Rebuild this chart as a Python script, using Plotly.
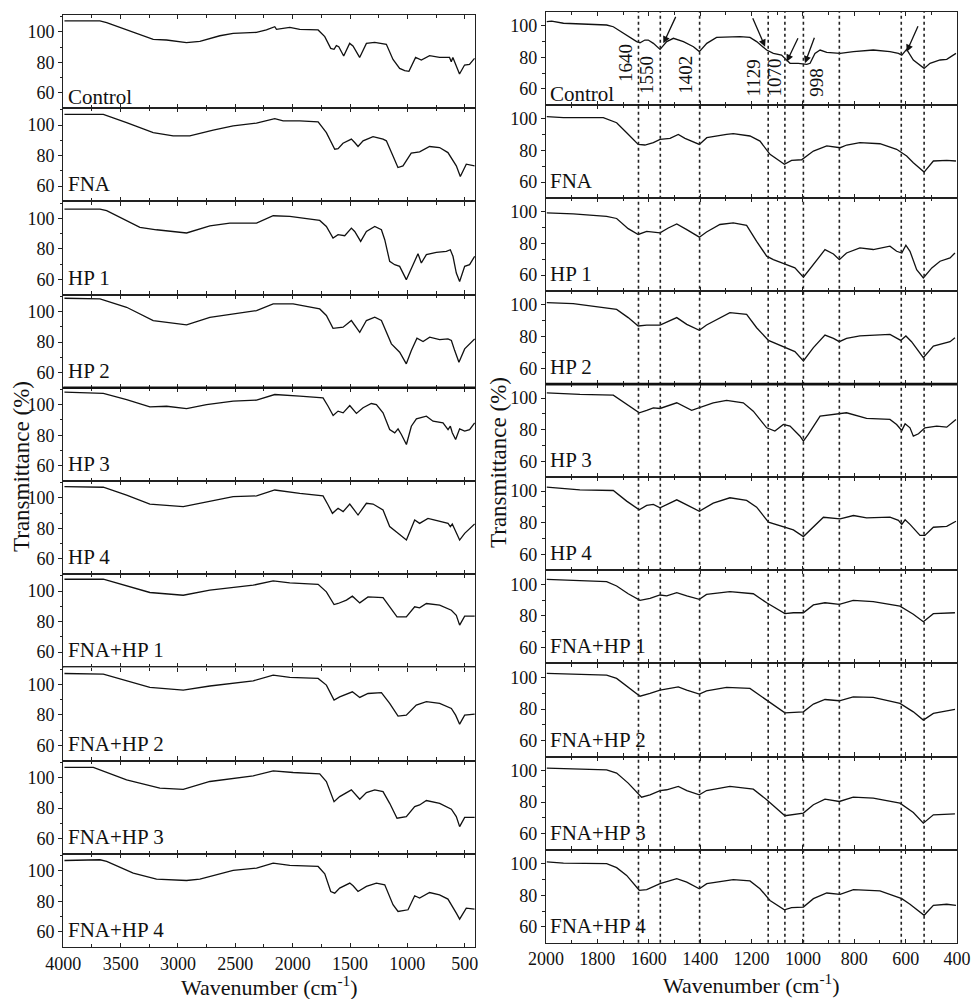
import plotly.graph_objects as go

W, H = 973, 999
BODY = 0   # body margin is reset to 0 by the post script below

samples = ["Control", "FNA", "HP 1", "HP 2", "HP 3", "HP 4",
           "FNA+HP 1", "FNA+HP 2", "FNA+HP 3", "FNA+HP 4"]

# ---------------- full range spectra (left column) ----------------
full_control_wn = [3990, 3681, 3622, 3448, 3216, 3100, 2926, 2809, 2635, 2519, 2316, 2229, 2156, 2141, 2025, 1938, 1778, 1720, 1668, 1639, 1619, 1598, 1555, 1503, 1474, 1416, 1357, 1285, 1212, 1183, 1125, 1067, 1023, 986, 928, 878, 806, 719, 632, 617, 603, 545, 501, 458, 414]
full_control_t = [107.2, 107.2, 106.1, 101.3, 95.1, 94.7, 93, 93.8, 97.5, 99.1, 99.7, 101.3, 103.4, 101.7, 103, 101.7, 101.3, 96.9, 89.2, 88.6, 91, 90.3, 84.2, 92.5, 90.8, 83.3, 92.5, 93.2, 92.5, 91.9, 82, 76.1, 74.6, 74.2, 83.3, 81.6, 84.4, 83.3, 83.3, 80.5, 83.3, 72.4, 78.3, 78.7, 82.7]

full_fna_wn = [3990, 3651, 3448, 3216, 3042, 2897, 2693, 2519, 2316, 2156, 2083, 1938, 1778, 1706, 1633, 1604, 1561, 1488, 1459, 1430, 1386, 1299, 1212, 1183, 1125, 1082, 1038, 966, 893, 806, 719, 646, 573, 538, 486, 414]
full_fna_t = [107, 107, 101.7, 95.1, 93, 93, 96.7, 99.5, 101.3, 104.3, 102.8, 102.8, 102.1, 95.1, 84.2, 84.6, 88.1, 90.8, 88.6, 86, 89.7, 92.5, 90.8, 89.7, 79.8, 72.2, 73.3, 81.6, 82.5, 86, 85.3, 82, 73.3, 66.3, 74.4, 73.3]

full_hp1_wn = [3990, 3680, 3622, 3332, 3187, 2925, 2722, 2548, 2315, 2170, 2025, 1764, 1706, 1648, 1604, 1546, 1488, 1459, 1407, 1357, 1284, 1226, 1197, 1154, 1110, 1067, 1009, 965, 907, 878, 834, 747, 660, 625, 602, 573, 544, 500, 457, 413]
full_hp1_t = [106.1, 106.1, 105, 94.1, 92.5, 90.4, 95.1, 96.9, 96.9, 101.7, 101.3, 98.6, 94.7, 87.1, 89.3, 88.6, 93.6, 91.4, 84.9, 91.4, 94.7, 92.5, 86, 71.8, 69.6, 68.5, 59.8, 67.4, 76.8, 70.7, 76.2, 77.7, 78.4, 79.4, 75.1, 64.1, 58.6, 68.5, 69.6, 75.1]

full_hp2_wn = [3990, 3680, 3448, 3216, 2925, 2722, 2315, 2170, 1996, 1764, 1706, 1648, 1560, 1488, 1415, 1357, 1284, 1226, 1139, 1067, 1009, 965, 916, 863, 805, 718, 646, 616, 587, 550, 500, 428, 413]
full_hp2_t = [108.7, 108.3, 102.8, 94.1, 91.2, 96.2, 100.6, 105, 105, 101.7, 97.4, 89, 89.7, 94.1, 86.4, 94.1, 96.3, 94.1, 78.8, 73.3, 65.7, 74.4, 82.5, 80.3, 83.2, 81.6, 82.1, 81, 74.4, 66.7, 75.5, 81, 82]

full_hp3_wn = [3990, 3651, 3448, 3245, 3099, 2925, 2751, 2519, 2315, 2156, 1938, 1735, 1691, 1647, 1604, 1560, 1502, 1444, 1386, 1314, 1270, 1212, 1154, 1110, 1081, 1052, 1008, 965, 921, 834, 776, 689, 645, 625, 608, 579, 544, 500, 457, 413]
full_hp3_t = [108.2, 107.4, 103.4, 98.6, 99, 97.5, 100.1, 102.3, 103, 106.7, 105.6, 104.5, 99, 92.9, 95.8, 94.7, 99.5, 94.3, 98, 100.8, 100.1, 94.7, 83.7, 81.6, 84.2, 80.5, 73.9, 85.9, 90.7, 92.5, 89.2, 88.1, 83.7, 85.9, 81.6, 77.2, 84.2, 82.7, 83.7, 88.1]

full_hp4_wn = [3990, 3651, 3448, 3245, 2954, 2751, 2519, 2315, 2156, 1938, 1735, 1691, 1653, 1604, 1560, 1502, 1430, 1357, 1299, 1212, 1154, 1081, 1008, 936, 893, 820, 718, 645, 625, 608, 544, 500, 413]
full_hp4_t = [107.4, 107, 101.9, 96, 94.3, 97.5, 100.8, 101.3, 105.2, 103, 101.3, 95.4, 89.9, 93.2, 91, 96, 88.8, 96.5, 96, 92.1, 81.2, 76.8, 72.4, 85.5, 83.3, 86.6, 84.4, 83.3, 81.2, 82.9, 72.4, 76.8, 82.9]

full_fh1_wn = [3990, 3651, 3245, 2954, 2722, 2344, 2170, 2025, 1778, 1706, 1639, 1604, 1531, 1479, 1415, 1343, 1212, 1154, 1090, 1009, 936, 893, 834, 718, 616, 573, 544, 500, 413]
full_fh1_t = [107.8, 107.8, 99.1, 97.3, 100.6, 103.9, 106.7, 105.4, 104.5, 99.5, 91.2, 91.9, 94.1, 96.7, 92.3, 96.2, 95.8, 89.7, 83.1, 83.1, 89.7, 89, 91.9, 90.8, 87.5, 84.2, 77.7, 83.6, 83.6]

full_fh2_wn = [3990, 3651, 3245, 2954, 2722, 2344, 2170, 2025, 1778, 1706, 1639, 1590, 1479, 1415, 1343, 1226, 1154, 1081, 1009, 922, 834, 718, 616, 579, 544, 500, 413]
full_fh2_t = [107.1, 106.7, 98, 96.2, 98.9, 102.3, 106, 104.5, 103.9, 99.5, 89.7, 91.8, 95.1, 91.4, 94, 94.5, 87.5, 79.2, 79.8, 86.4, 88.6, 87.5, 84.2, 79.8, 73.9, 79.8, 80.5]

full_fh3_wn = [3990, 3738, 3448, 3158, 2954, 2722, 2344, 2170, 1996, 1764, 1706, 1639, 1590, 1488, 1415, 1357, 1284, 1212, 1154, 1090, 1009, 936, 893, 834, 718, 616, 573, 544, 500, 413]
full_fh3_t = [106.7, 106.7, 98.4, 93, 92.3, 97.4, 101.1, 104.3, 103.3, 102.4, 97.4, 84.2, 87.5, 91.9, 85.8, 90.1, 91.9, 90.8, 83.1, 73.3, 74.4, 80.9, 82, 84.9, 83.1, 79.2, 74.4, 67.8, 73.9, 73.9]

full_fh4_wn = [3990, 3680, 3622, 3390, 3187, 2925, 2809, 2664, 2519, 2315, 2170, 2025, 1778, 1720, 1668, 1633, 1590, 1502, 1473, 1430, 1357, 1270, 1197, 1125, 1081, 994, 936, 893, 806, 719, 646, 573, 544, 486, 414]
full_fh4_t = [106.7, 107.2, 106.1, 98.4, 94.5, 93.6, 94.5, 97.3, 100.2, 101.7, 105, 103.5, 102.8, 98, 86.4, 85.3, 88.6, 91.9, 90.1, 86.4, 89.7, 91.9, 90.8, 77.7, 73.3, 74.4, 83.6, 82.1, 85.7, 84.2, 81.4, 72.2, 68.3, 75.5, 74.8]

# ---------------- fingerprint region spectra (right column) ----------------
fp_control_wn = [1997, 1978, 1932, 1868, 1764, 1738, 1686, 1647, 1634, 1615, 1602, 1582, 1556, 1530, 1504, 1465, 1426, 1403, 1374, 1336, 1245, 1206, 1180, 1141, 1115, 1083, 1070, 1050, 1018, 985, 972, 953, 933, 907, 855, 803, 726, 661, 628, 615, 596, 570, 528, 505, 466, 440, 404]
fp_control_t = [102.5, 102.9, 101.5, 101, 100.4, 99.3, 94.1, 89.9, 89.2, 90.9, 90.9, 88.8, 85, 89.9, 92, 89.9, 86.7, 83.6, 88.8, 92.6, 93, 92.6, 89.9, 84.6, 82.5, 81.4, 79.3, 76.2, 76.2, 75.5, 76.2, 82.5, 84.6, 83.1, 82.5, 83.6, 84.6, 83.6, 82.5, 81.4, 85, 78.3, 73, 76.2, 78.3, 78.7, 82.5]

fp_fna_wn = [1997, 1932, 1777, 1725, 1686, 1641, 1615, 1582, 1556, 1517, 1485, 1459, 1403, 1374, 1297, 1271, 1206, 1167, 1128, 1096, 1072, 1044, 1005, 959, 907, 855, 829, 778, 700, 635, 596, 570, 528, 492, 440, 404]
fp_fna_t = [101.3, 100.7, 100.7, 97.5, 91.2, 83.8, 83.4, 84.9, 87, 87.6, 90.1, 87.6, 83.8, 88, 90.1, 90.6, 89.1, 85.9, 77.5, 73.7, 71.2, 73.7, 74.1, 79.6, 82.8, 81.7, 83.4, 84.9, 84.2, 80.7, 76.5, 72.2, 66.3, 73.3, 73.7, 73.3]

fp_hp1_wn = [1997, 1894, 1764, 1725, 1680, 1641, 1608, 1556, 1524, 1491, 1452, 1403, 1375, 1323, 1271, 1219, 1180, 1141, 1115, 1070, 1031, 998, 959, 914, 881, 858, 830, 778, 726, 661, 635, 615, 599, 583, 557, 531, 498, 466, 427, 408]
fp_hp1_t = [99.4, 98.7, 97.2, 95.8, 89.4, 85.7, 87.7, 86.7, 89.8, 92.4, 88.8, 84, 87.3, 92, 93, 91.5, 81.4, 72, 69.8, 67.1, 64.6, 58.7, 66.7, 76.1, 73.4, 69.8, 74, 77.2, 76.2, 78.3, 75.1, 74, 78.9, 75.1, 63.5, 58.3, 64.6, 68.8, 70.9, 74]

fp_hp2_wn = [1997, 1894, 1725, 1680, 1641, 1608, 1556, 1491, 1452, 1403, 1375, 1284, 1219, 1180, 1134, 1070, 1031, 998, 959, 914, 881, 858, 830, 778, 661, 619, 599, 577, 531, 492, 427, 408]
fp_hp2_t = [101.4, 100.8, 97.2, 92, 86.7, 87.3, 87.3, 92, 87.7, 84, 87.3, 95.1, 94.1, 85.6, 77.6, 73.4, 70.5, 64.6, 73, 81, 78.9, 76.8, 78.9, 80.4, 81.4, 77.6, 80.4, 76.8, 66.7, 74, 76.8, 79.3]

fp_hp3_wn = [1997, 1868, 1738, 1686, 1637, 1608, 1582, 1556, 1491, 1433, 1403, 1349, 1297, 1232, 1193, 1141, 1109, 1076, 1050, 1011, 998, 979, 933, 855, 830, 752, 661, 635, 615, 602, 583, 570, 550, 525, 479, 440, 404]
fp_hp3_t = [103.3, 102.3, 101.8, 96, 90.7, 92.2, 93.8, 93.4, 97, 92.2, 93.8, 97, 98.5, 97, 91.7, 81.2, 79.1, 83.3, 82.3, 75.9, 72.8, 77, 88.6, 90.1, 90.7, 87.1, 86.5, 83.3, 79.5, 83.7, 81.2, 75.9, 77.4, 81.2, 82.3, 81.6, 86.5]

fp_hp4_wn = [1997, 1868, 1738, 1686, 1637, 1608, 1582, 1556, 1491, 1403, 1349, 1284, 1219, 1180, 1134, 1070, 1037, 998, 959, 920, 855, 803, 752, 661, 628, 615, 602, 583, 544, 525, 492, 440, 404]
fp_hp4_t = [102.5, 100.8, 100.4, 93.7, 88.2, 91, 91.6, 89.5, 94.5, 87.3, 92.4, 95.8, 94.1, 89.9, 80.4, 77.2, 75.5, 71.3, 77.2, 83.5, 82.5, 84.6, 83.1, 83.6, 81.5, 79, 81.9, 79, 72, 72, 77.2, 77.7, 81]

fp_fh1_wn = [1997, 1764, 1725, 1680, 1634, 1595, 1556, 1530, 1491, 1452, 1403, 1375, 1284, 1193, 1141, 1070, 1037, 998, 959, 914, 858, 804, 726, 622, 570, 531, 492, 408]
fp_fh1_t = [103.1, 101.6, 98.9, 94, 89.8, 91.1, 93.2, 92.6, 94.7, 92.6, 90.5, 93.6, 95.3, 94, 88.3, 81.4, 82, 82, 86.9, 88.3, 87.3, 89.8, 89, 86.2, 81, 76.3, 81.4, 82]

fp_fh2_wn = [1997, 1764, 1725, 1680, 1634, 1595, 1556, 1485, 1452, 1403, 1375, 1297, 1206, 1141, 1070, 998, 959, 914, 858, 804, 726, 622, 570, 531, 492, 408]
fp_fh2_t = [102.5, 101.4, 99.3, 94, 88.1, 89.8, 91.9, 94, 91.9, 89.4, 91.5, 93.6, 93, 85.6, 77.6, 78.2, 83.1, 86, 85.2, 87.7, 87.3, 83.5, 78.2, 73, 77.2, 79.7]

fp_fh3_wn = [1997, 1764, 1725, 1680, 1628, 1595, 1556, 1530, 1485, 1452, 1403, 1375, 1284, 1193, 1141, 1070, 998, 959, 914, 858, 804, 726, 622, 570, 531, 492, 408]
fp_fh3_t = [101.5, 100.4, 98.3, 92, 83.1, 84.6, 87.3, 87.8, 89.9, 87.3, 84.6, 87.3, 89.9, 88.2, 81.5, 71.4, 73.1, 78.3, 81.9, 80.4, 83.1, 82.5, 79.3, 73.4, 66.7, 72, 72.6]

fp_fh4_wn = [1997, 1932, 1764, 1725, 1686, 1637, 1608, 1556, 1491, 1452, 1403, 1374, 1271, 1206, 1167, 1128, 1072, 1044, 998, 959, 907, 855, 803, 700, 615, 583, 528, 492, 440, 404]
fp_fh4_t = [101, 100.3, 99.9, 97.4, 92.5, 83.1, 83.5, 87.3, 90.4, 88.3, 84.1, 87.3, 89.8, 89, 84.1, 76.7, 70.8, 72.1, 72.5, 77.8, 81.4, 80.5, 83.5, 82.7, 77.8, 74.3, 67.3, 73.6, 74.3, 73.6]

# marked bands (right column)
band_lines = [1640, 1555, 1402, 1135, 1070, 998, 858, 617, 528]
band_labels = ["1640", "1550", "1402", "1129", "1070", "998"]

left_ticks = [4000, 3500, 3000, 2500, 2000, 1500, 1000, 500]
right_ticks = [2000, 1800, 1600, 1400, 1200, 1000, 800, 600, 400]
y_ticks = [60, 80, 100]

full_series = [(full_control_wn, full_control_t), (full_fna_wn, full_fna_t),
               (full_hp1_wn, full_hp1_t), (full_hp2_wn, full_hp2_t),
               (full_hp3_wn, full_hp3_t), (full_hp4_wn, full_hp4_t),
               (full_fh1_wn, full_fh1_t), (full_fh2_wn, full_fh2_t),
               (full_fh3_wn, full_fh3_t), (full_fh4_wn, full_fh4_t)]
fp_series = [(fp_control_wn, fp_control_t), (fp_fna_wn, fp_fna_t),
             (fp_hp1_wn, fp_hp1_t), (fp_hp2_wn, fp_hp2_t),
             (fp_hp3_wn, fp_hp3_t), (fp_hp4_wn, fp_hp4_t),
             (fp_fh1_wn, fp_fh1_t), (fp_fh2_wn, fp_fh2_t),
             (fp_fh3_wn, fp_fh3_t), (fp_fh4_wn, fp_fh4_t)]

# ---------------- layout geometry (page pixels) ----------------
FONT = "Liberation Serif, Times New Roman, serif"
L_X0, L_X1 = 63.3, 475
R_X0, R_X1 = 546, 957
L_TOP, L_STEP = 15, 93.2
R_TOP, R_STEP = 11.7, 93.1


def px(x):
    return (x - BODY) / W


def py(y):
    return 1 - (y - BODY) / H


fig = go.Figure()
layout = {}
annotations = []
shapes = []

for col in range(2):
    for i in range(10):
        n = col * 10 + i + 1
        xa = "xaxis" if n == 1 else f"xaxis{n}"
        ya = "yaxis" if n == 1 else f"yaxis{n}"
        xr = "x" if n == 1 else f"x{n}"
        yr = "y" if n == 1 else f"y{n}"
        if col == 0:
            top = L_TOP + i * L_STEP
            bot = top + L_STEP
            dom_x = [px(L_X0), px(L_X1)]
            xrange_ = [4000, 410]
            yrange_ = [50, 111.1]
            ticks_major = left_ticks
            ticks_minor = [v for v in range(3750, 400, -500)]
            wn, t = full_series[i]
            lab_x = 66
            minor_y = [70, 90, 110]
        else:
            top = R_TOP + i * R_STEP
            bot = top + R_STEP
            dom_x = [px(R_X0), px(R_X1)]
            xrange_ = [2000, 400]
            yrange_ = [50, 108.8]
            ticks_major = right_ticks
            ticks_minor = [v for v in range(1900, 400, -200)]
            wn, t = fp_series[i]
            lab_x = 548
            minor_y = [70, 90]
        fig.add_trace(go.Scatter(x=wn, y=t, mode="lines",
                                 line=dict(color="#111", width=1.3),
                                 xaxis=xr, yaxis=yr, showlegend=False,
                                 hoverinfo="skip"))
        layout[xa] = dict(domain=dom_x, anchor=yr, range=xrange_,
                          automargin=False,
                          showline=True, linecolor="#222", linewidth=1.3,
                          mirror="ticks", ticks="inside", ticklen=4,
                          tickcolor="#222", tickvals=ticks_major,
                          showticklabels=(i == 9), showgrid=False,
                          zeroline=False,
                          tickfont=dict(family=FONT, size=18, color="#111"),
                          minor=dict(tickvals=ticks_minor, ticks="inside",
                                     ticklen=3, tickcolor="#222"))
        layout[ya] = dict(domain=[py(bot), py(top)], anchor=xr,
                          automargin=False,
                          range=yrange_, showline=True, linecolor="#222",
                          linewidth=1.3, mirror=True, ticks="outside",
                          ticklen=4, tickcolor="#222", tickvals=y_ticks,
                          showgrid=False, zeroline=False,
                          tickfont=dict(family=FONT, size=18, color="#111"),
                          minor=dict(tickvals=minor_y, ticks="outside",
                                     ticklen=2.5, tickcolor="#222"))
        off = 11 if i == 0 else 17
        annotations.append(dict(x=px(lab_x), y=py(bot - off), xref="paper",
                                yref="paper", text=samples[i], showarrow=False,
                                xanchor="left", yanchor="middle",
                                font=dict(family=FONT, size=21, color="#111")))

# vertical dotted band markers on right column
for b in band_lines:
    shapes.append(dict(type="line", xref="x11", yref="paper", x0=b, x1=b,
                       y0=py(R_TOP + 10 * R_STEP), y1=py(R_TOP),
                       line=dict(color="#222", width=1.6, dash="dot")))

# thicker separators (HP 2 / HP 3 boundary)
shapes.append(dict(type="line", xref="paper", yref="paper",
                   x0=px(L_X0), x1=px(L_X1), y0=py(L_TOP + 4 * L_STEP),
                   y1=py(L_TOP + 4 * L_STEP), line=dict(color="#111", width=2.6)))
shapes.append(dict(type="line", xref="paper", yref="paper",
                   x0=px(R_X0), x1=px(R_X1), y0=py(R_TOP + 4 * R_STEP),
                   y1=py(R_TOP + 4 * R_STEP), line=dict(color="#111", width=2.6)))

# rotated band labels in Control (right) panel
label_pos = [(625.5, 63.5), (647, 75), (685.8, 75), (752.5, 78), (774, 77.5), (815.8, 82)]
for txt, (lx, ly) in zip(band_labels, label_pos):
    annotations.append(dict(x=px(lx), y=py(ly), xref="paper", yref="paper",
                            text=txt, textangle=-90, showarrow=False,
                            xanchor="center", yanchor="middle",
                            font=dict(family=FONT, size=19, color="#111")))

# arrows in Control (right) panel: head (wn, T), tail pixel offset
arrow_heads = [(1543, 88.8, 13, -28), (1147, 86.7, -13, -30),
               (1063, 77.2, 12, -25), (992, 76.2, 10, -27), (596, 83.5, 12, -27)]
for hx, hy, dx, dy in arrow_heads:
    annotations.append(dict(x=hx, y=hy, xref="x11", yref="y11", ax=dx, ay=dy,
                            text="", showarrow=True, arrowhead=2,
                            arrowsize=1.1, arrowwidth=1.3, arrowcolor="#111"))

# axis titles
for (tx, ty) in [(21, 467), (498, 463)]:
    annotations.append(dict(x=px(tx), y=py(ty), xref="paper", yref="paper",
                            text="Transmittance (%)", textangle=-90,
                            showarrow=False, xanchor="center", yanchor="middle",
                            font=dict(family=FONT, size=23, color="#111")))
for (tx, ty) in [(269, 985.5), (751, 984)]:
    annotations.append(dict(x=px(tx), y=py(ty), xref="paper", yref="paper",
                            text="Wavenumber (cm<sup>-1</sup>)",
                            showarrow=False, xanchor="center", yanchor="middle",
                            font=dict(family=FONT, size=22, color="#111")))

fig.update_layout(width=W, height=H, margin=dict(l=0, r=0, t=0, b=0),
                  paper_bgcolor="white", plot_bgcolor="white",
                  showlegend=False, annotations=annotations, shapes=shapes,
                  **layout)

fig.write_html("out.html",
               config={"displayModeBar": False},
               post_script="document.body.style.margin='0px';"
                           "document.documentElement.style.overflow='hidden';"
                           "document.body.style.overflow='hidden';")
